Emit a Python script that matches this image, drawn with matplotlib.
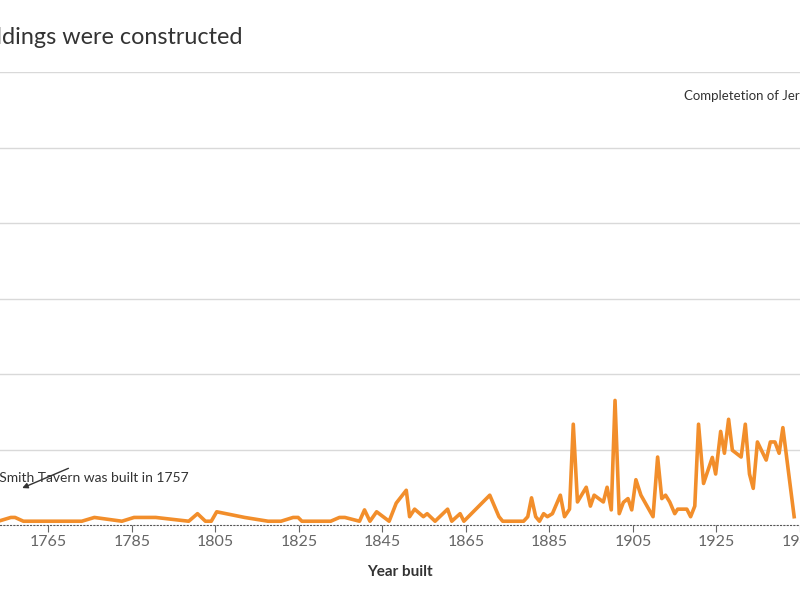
import matplotlib.pyplot as plt

plt.rcParams['font.family'] = ['Lato', 'DejaVu Sans']

years = [1753, 1756, 1757, 1759, 1773, 1776, 1782.6, 1785.5, 1790.7, 1798.6, 1800.7,
         1802.6, 1804, 1805.3, 1812, 1817.6, 1820.7, 1823.6, 1824.8, 1825.7, 1832.6,
         1834.7, 1836, 1839.5, 1840.7, 1842, 1843.6, 1846.6, 1848.3, 1850.7, 1851.5,
         1852.7, 1854.8, 1855.7, 1857.6, 1860.6, 1861.6, 1863.6, 1864.5, 1870.7, 1872.9,
         1873.8, 1878.8, 1879.8, 1880.7, 1881.7, 1882.6, 1883.6, 1884.5, 1885.7, 1887.6,
         1888.6, 1889.8, 1890.7, 1891.7, 1893.8, 1894.8, 1895.7, 1897.9, 1898.8, 1899.8,
         1900.7, 1901.7, 1902.7, 1903.8, 1904.7, 1905.7, 1906.9, 1909.8, 1910.9, 1911.9,
         1912.8, 1913.8, 1915, 1915.7, 1917.9, 1918.8, 1919.8, 1920.7, 1921.9, 1924,
         1924.8, 1926, 1926.9, 1927.9, 1928.8, 1930.9, 1931.9, 1932.9, 1933.8, 1934.8,
         1936.9, 1937.9, 1939, 1940, 1940.9, 1943.6]
counts = [1, 2, 2, 1, 1, 2, 1, 2, 2, 1, 3,
          1, 1, 3.5, 2, 1, 1, 2, 2, 1, 1,
          2, 2, 1, 4, 1, 3.5, 1, 5.8, 9.2, 2.2,
          4.2, 2.2, 3, 1, 4.2, 1, 3, 1, 7.9, 2.2,
          1, 1, 2.2, 7.2, 2.2, 1, 3, 2.2, 3, 7.9,
          2.2, 4.2, 26.7, 6.1, 10, 5, 7.9, 6.1, 10, 4,
          33, 3, 6, 7, 4, 12, 7.9, 2.2, 18, 7,
          7.9, 6.1, 3, 4.2, 4.2, 2.2, 5, 26.7, 11, 17.9,
          13.5, 24.8, 19, 28, 19.8, 18, 26.7, 13.5, 9.7, 22,
          17.2, 22, 22, 19, 25.8, 2.2]
tick_years = [1765, 1785, 1805, 1825, 1845, 1865, 1885, 1905, 1925, 1945]

fig = plt.figure(figsize=(8, 6), dpi=100)
ax = fig.add_axes([0, 0.125, 1, 0.755])
ax.plot(years, counts, color='#f28e2b', lw=2.6, solid_joinstyle='round')
ax.set_xlim(1753.4, 1753.4 + 800 / 4.217)
ax.set_ylim(0, 120)
ax.set_yticks([20, 40, 60, 80, 100, 120])
ax.yaxis.grid(True, color='#d9d9d9', lw=1)
ax.tick_params(axis='y', left=False, labelleft=False)
ax.set_xticks(tick_years)
ax.tick_params(axis='x', length=5, color='#666666', labelsize=11.5,
               labelcolor='#666666', pad=2)
for s in ['top', 'left', 'right']:
    ax.spines[s].set_visible(False)
ax.spines['bottom'].set_linestyle((0, (1, 2)))
ax.spines['bottom'].set_color('#555555')
ax.set_axisbelow(True)
ax.set_xlabel('Year built', fontsize=11, fontweight='bold', color='#333333', labelpad=12)

ax.annotate('', xy=(1758.1, 9.5), xytext=(1770.4, 15.3),
            arrowprops=dict(arrowstyle='-|>', color='#333333', lw=1, mutation_scale=8))
ax.text(1798.6, 12.4, 'Josiah Smith Tavern was built in 1757', ha='right', va='center',
        fontsize=10, color='#333333')
ax.text(1917.1, 113.7, 'Completetion of Jersey City Hall', ha='left', va='center',
        fontsize=9.5, color='#333333')

fig.text(0.3025, 0.938, 'When buildings were constructed', ha='right', va='center',
         fontsize=16.8, color='#333333')

fig.savefig('out.png', dpi=100)
